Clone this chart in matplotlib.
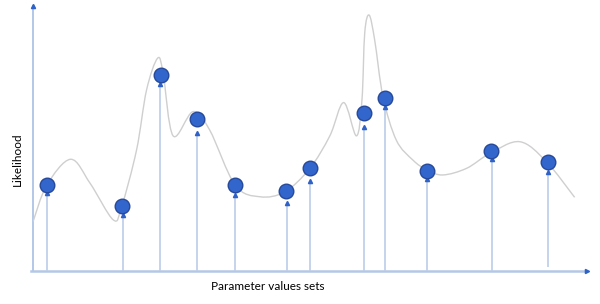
import numpy as np
import matplotlib
matplotlib.use("Agg")
from matplotlib import pyplot as plt
from matplotlib.path import Path
from matplotlib.patches import PathPatch

# Likelihood curve (knots of a smooth line)
curve_x = [0.0, 2.5, 6.8, 10.3, 14.5, 16.0, 18.7, 20.5, 22.5, 23.5, 25.3, 28.9,
           31.9, 36.5, 41.0, 45.5, 50.0, 53.6, 56.1, 58.4, 59.4, 59.9, 60.7,
           61.7, 63.2, 65.6, 68.6, 71.1, 74.0, 78.3, 82.5, 87.9, 92.7, 97.8]
curve_y = [18.5, 32.3, 42.0, 33.0, 19.2, 24.2, 45.5, 68.0, 80.0, 74.3, 50.8, 59.9,
           53.0, 32.3, 27.9, 29.8, 38.6, 50.8, 63.3, 50.8, 64.3, 89.5, 96.2,
           86.8, 65.5, 49.2, 41.7, 38.0, 36.1, 38.6, 44.2, 48.6, 41.1, 27.7]

# sampled parameter sets
sample_x = [2.5, 16.1, 23.1, 29.6, 36.5, 45.7, 50.0, 59.7, 63.5, 71.1, 82.7, 93.0]
sample_y = [32.3, 24.4, 73.7, 57.1, 32.3, 30.1, 38.7, 59.4, 65.0, 37.6, 45.1, 41.0]

# arrows pointing up to the samples
arrow_x = [2.5, 16.2, 22.9, 29.6, 36.5, 45.8, 50.0, 59.7, 63.5, 71.1, 82.9, 93.0]
arrow_top = [29.3, 21.1, 70.3, 51.9, 28.6, 25.6, 33.8, 54.1, 61.7, 34.6, 42.1, 37.2]
arrow_base = [0, 0, 0, 0, 0, 0, 0, 0, 0, 0, 0, 1.5]

axis_color = "#b4c7e7"
head_color = "#2f62c8"


def smooth_path(xs, ys):
    """Catmull-Rom knots turned into cubic Bezier segments."""
    pts = np.column_stack([xs, ys])
    pts = np.vstack([pts[0], pts, pts[-1]])
    verts = [pts[1]]
    codes = [Path.MOVETO]
    for i in range(1, len(pts) - 2):
        p0, p1, p2, p3 = pts[i - 1], pts[i], pts[i + 1], pts[i + 2]
        verts += [p1 + (p2 - p0) / 6, p2 - (p3 - p1) / 6, p2]
        codes += [Path.CURVE4] * 3
    return Path(verts, codes)


fig = plt.figure(figsize=(6, 3.04), dpi=100)
ax = fig.add_axes([0.055, 0.1086, 0.923, 0.875])
ax.set_xlim(0, 100)
ax.set_ylim(0, 100)
ax.axis("off")

ax.add_patch(PathPatch(smooth_path(curve_x, curve_y), fill=False,
                       edgecolor="#cfcfcf", lw=1.0, zorder=2))

# axes with arrow heads
ax.plot([-0.4, 99.7], [0, 0], color=axis_color, lw=1.8, zorder=1, clip_on=False)
ax.plot([0, 0], [0, 99.5], color=axis_color, lw=1.4, zorder=1, clip_on=False)
ax.plot([100], [0], marker=">", ms=3, color=head_color, zorder=3, clip_on=False)
ax.plot([0], [99.8], marker="^", ms=3, color=head_color, zorder=3, clip_on=False)

ax.vlines(arrow_x, arrow_base, arrow_top, color="#bccde9", lw=1.2, zorder=1)
ax.plot(arrow_x, arrow_top, ls="none", marker="^", ms=3.0,
        color=head_color, zorder=3)

ax.plot(sample_x, sample_y, ls="none", marker="o", ms=10.5,
        markerfacecolor="#3366cc", markeredgecolor="#26499a",
        markeredgewidth=1.0, zorder=4)

fig.text(0.029, 0.477, "Likelihood", rotation=90, ha="center", va="center",
         fontsize=8.5, family="Lato", color="#000000")
fig.text(0.446, 0.056, "Parameter values sets", ha="center", va="center",
         fontsize=8.5, family="Lato", color="#000000")

fig.savefig("out.png", dpi=100)
